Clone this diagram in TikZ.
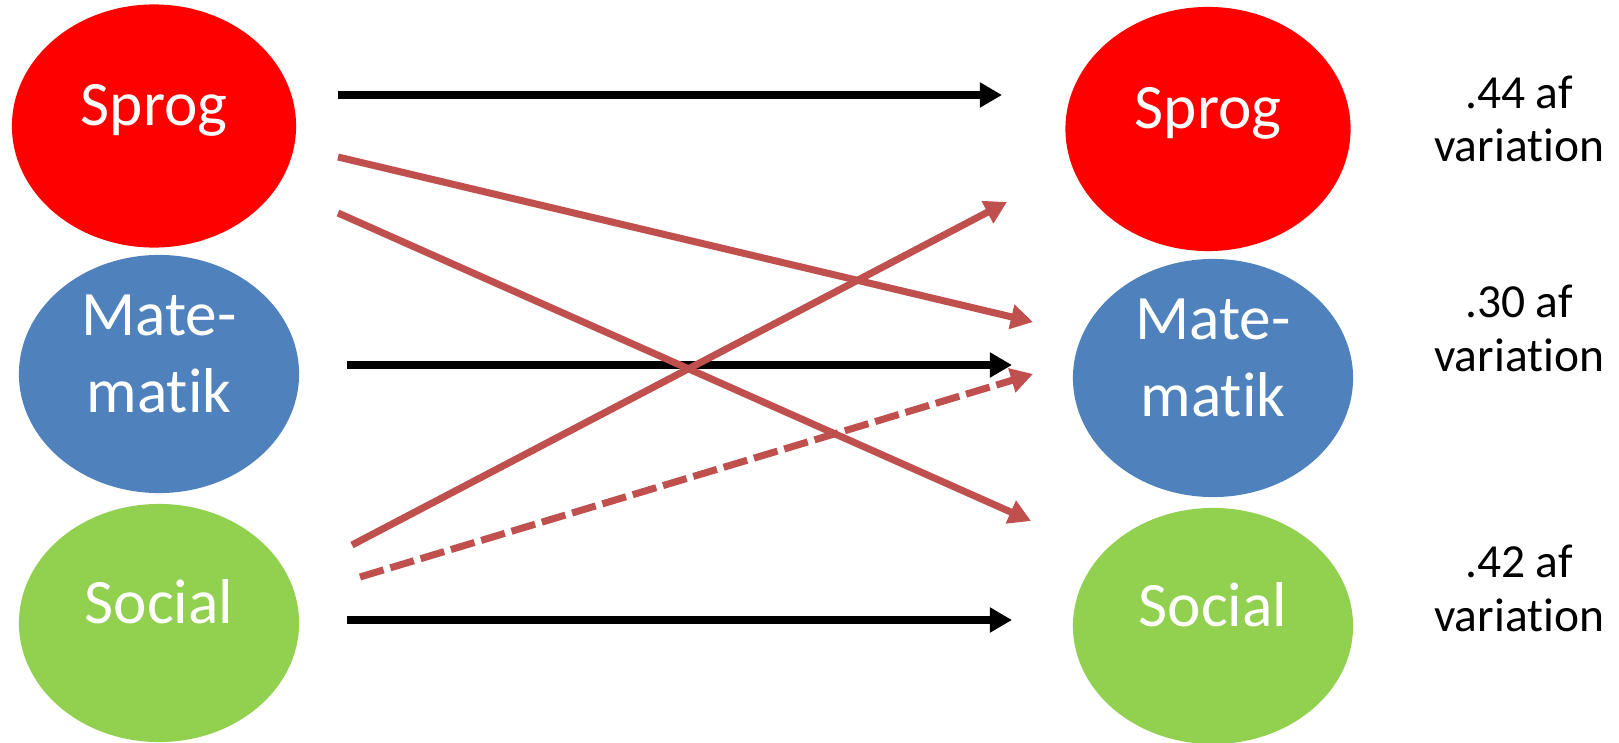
\documentclass[tikz,border=0pt]{standalone}
\usepackage{fontspec}
\setmainfont{Carlito}[Ligatures=NoCommon]
\usetikzlibrary{shapes.geometric,arrows.meta}

\definecolor{sprogred}{HTML}{FF0000}
\definecolor{mathblue}{HTML}{4F81BD}
\definecolor{socgreen}{HTML}{92D050}
\definecolor{pathred}{HTML}{C0504D}

\tikzset{
    factor/.style={ellipse,inner sep=0pt,text=white,font=\fontsize{18}{22}\selectfont,
        text height=10pt,text depth=10pt},
    twoline/.style={align=center,text height=22pt,text depth=0pt},
    share/.style={align=center,anchor=base,font=\fontsize{13.5}{15.1}\selectfont},
    effect/.style={line width=2pt,-{Triangle[length=6.3pt,width=6.8pt]}}
}

\begin{document}
\begin{tikzpicture}[x=0.01cm,y=-0.01cm]
    \useasboundingbox (0,0) rectangle (1619,743);
    \node [factor,fill=sprogred,minimum width=2.84cm,minimum height=2.43cm] (sprogL) at (154,126) {Sprog};
    \node [factor,twoline,fill=mathblue,minimum width=2.80cm,minimum height=2.38cm] (mathL) at (159,374) {Mate-\\matik};
    \node [factor,fill=socgreen,minimum width=2.80cm,minimum height=2.38cm] (socL) at (159,623) {Social};
    \node [factor,fill=sprogred,minimum width=2.85cm,minimum height=2.44cm] (sprogR) at (1208,129) {Sprog};
    \node [factor,twoline,fill=mathblue,minimum width=2.80cm,minimum height=2.38cm] (mathR) at (1213,378) {Mate-\\matik};
    \node [factor,fill=socgreen,minimum width=2.80cm,minimum height=2.36cm] (socR) at (1213,626) {Social};
    \node [share] (sprogV) at (1519,162) {.44 af\\variation};
    \node [share] (mathV) at (1519,371) {.30 af\\variation};
    \node [share] (socV) at (1519,631) {.42 af\\variation};
    \coordinate (S1) at (338,95);
    \coordinate (S2) at (338,157);
    \coordinate (S3) at (338,213);
    \coordinate (M1) at (347,365);
    \coordinate (C1) at (352,545);
    \coordinate (C2) at (360,577);
    \coordinate (C3) at (347,620);
    \coordinate (TS) at (1002,95);
    \coordinate (TSr) at (1007,202);
    \coordinate (TM) at (1012,365);
    \coordinate (TMs) at (1033,322);
    \coordinate (TMc) at (1033,374);
    \coordinate (TC) at (1012,620);
    \coordinate (TCs) at (1031,521);
    \draw [effect] (S1) -- (TS);
    \draw [effect] (M1) -- (TM);
    \draw [effect] (C3) -- (TC);
    \draw [effect,pathred] (S2) -- (TMs);
    \draw [effect,pathred] (S3) -- (TCs);
    \draw [effect,pathred] (C1) -- (TSr);
    \draw [effect,pathred,dash pattern=on 7pt off 2pt] (C2) -- (TMc);
\end{tikzpicture}
\end{document}
